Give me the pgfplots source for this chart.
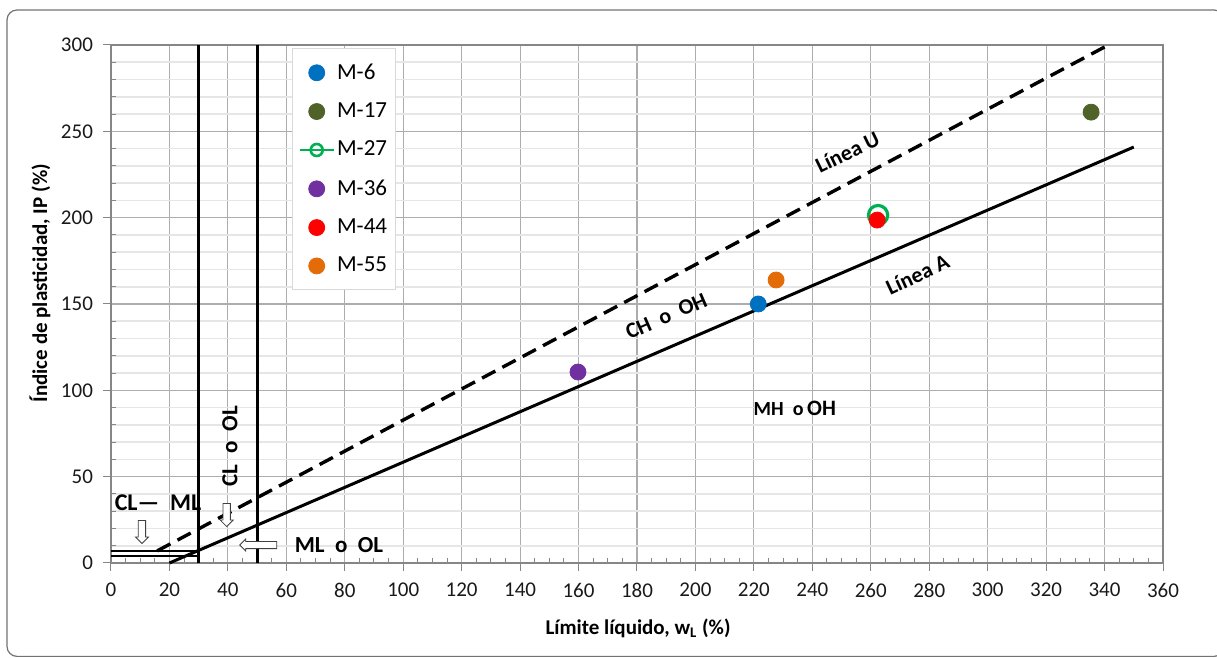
\documentclass[border=0pt]{standalone}
\usepackage{fontspec}
\setmainfont{Carlito}
\usepackage{pgfplots}
\pgfplotsset{compat=1.18}
\usetikzlibrary{shapes.arrows}
\definecolor{c6}{HTML}{0070C0}
\definecolor{c17}{HTML}{4F6228}
\definecolor{c27}{HTML}{00B050}
\definecolor{c36}{HTML}{7030A0}
\definecolor{c44}{HTML}{FF0000}
\definecolor{c55}{HTML}{E36C09}
\definecolor{gridmajor}{HTML}{ADADAD}
\definecolor{gridminor}{HTML}{E6E6E6}
\definecolor{axisgray}{HTML}{868686}
\definecolor{legendgray}{HTML}{D9D9D9}
\begin{document}
\begin{tikzpicture}
\clip (0,0) rectangle (608.5pt,329pt);
\draw[rounded corners=5pt, color=black!55, line width=0.6pt] (3.5pt,0.8pt) rectangle (612pt,324pt);
\begin{axis}[
  at={(55.5pt,47.5pt)}, anchor=south west,
  scale only axis, width=526pt, height=259pt,
  xmin=0, xmax=360, ymin=0, ymax=300,
  xtick distance=20, ytick distance=50,
  minor x tick num=3, minor y tick num=4,
  xmajorgrids=true, ymajorgrids=true, yminorgrids=true,
  major grid style={color=gridmajor, line width=0.55pt},
  minor grid style={color=gridminor, line width=0.8pt},
  axis line style={color=axisgray, line width=0.6pt},
  tick style={color=axisgray, line width=0.5pt},
  tick pos=left,
  tick align=outside, major tick length=4pt, minor tick length=-2.5pt,
  ticklabel style={font=\fontsize{10.5}{12}\selectfont, text=black!90},
  xticklabel style={yshift=-2.5pt},
  yticklabel style={xshift=-1.5pt},
  /pgf/number format/assume math mode=true,
  xlabel={\textbf{Límite líquido, w\textsubscript{L} (\%)}},
  xlabel style={at={(axis description cs:0.501,-0.1255)}, anchor=center, font=\fontsize{10.5}{12}\selectfont},
  ylabel={\textbf{Índice de plasticidad, IP (\%)}},
  ylabel style={at={(axis description cs:-0.0675,0.54)}, anchor=center, font=\fontsize{10.5}{12}\selectfont},
  legend style={at={(axis description cs:0.172,0.994)}, anchor=north west,
    draw=legendgray, fill=white, font=\fontsize{11.5}{13}\selectfont,
    row sep=6.3pt, inner xsep=3pt, inner ysep=5.5pt, nodes={inner xsep=1pt}},
  legend cell align=left,
  clip=false,
]
% lines
\addplot[forget plot, black, line width=1.5pt] coordinates {(20,0) (350,240.9)};
\addplot[forget plot, black, line width=1.7pt, dash pattern=on 7.5pt off 4pt] coordinates {(15.8,7) (341.3,300)};
\addplot[forget plot, black, line width=1.4pt] coordinates {(30,0) (30,300)};
\addplot[forget plot, black, line width=1.4pt] coordinates {(50,0) (50,300)};
\addplot[forget plot, black, line width=1.2pt] coordinates {(0,7) (29.5,7)};
\addplot[forget plot, black, line width=1.2pt] coordinates {(0,4) (29.5,4)};
% samples
\addplot[only marks, mark=*, mark size=4pt, color=c6] coordinates {(221.5,150)};
\addlegendentry{M-6}
\addplot[only marks, mark=*, mark size=4pt, color=c17] coordinates {(335.4,261.1)};
\addlegendentry{M-17}
\addplot[forget plot, color=c27, line width=1.5pt, mark=o, mark size=4.8pt, mark options={line width=1.6pt}] coordinates {(262.5,201.5)};
\addlegendimage{color=c27, line width=1.3pt, mark=o, mark size=3pt, mark options={line width=1.3pt}}
\addlegendentry{M-27}
\addplot[only marks, mark=*, mark size=4pt, color=c36] coordinates {(159.8,110.6)};
\addlegendentry{M-36}
\addplot[only marks, mark=*, mark size=4pt, color=c44] coordinates {(262.2,198.6)};
\addlegendentry{M-44}
\addplot[only marks, mark=*, mark size=4pt, color=c55] coordinates {(227.6,163.9)};
\addlegendentry{M-55}
% texts
\node[font=\bfseries\fontsize{11}{13}\selectfont, rotate=26] at (axis cs:252,238) {Línea U};
\node[font=\bfseries\fontsize{11}{13}\selectfont, rotate=25] at (axis cs:276,167) {Línea A};
\node[font=\bfseries\fontsize{11}{13}\selectfont, rotate=23.5] at (axis cs:190,143) {CH\ \ o\ \ OH};
\node[font=\bfseries\fontsize{11}{13}\selectfont] at (axis cs:234,89.8) {{\fontsize{10}{12}\selectfont MH\ \ o}\,OH};
\node[font=\bfseries\fontsize{11.5}{13}\selectfont, rotate=90] at (axis cs:40.7,67.7) {CL\ \ o\ \ OL};
\node[font=\bfseries\fontsize{12}{13}\selectfont] at (axis cs:16.1,34.7) {CL—\ \ ML};
\node[font=\bfseries\fontsize{11.5}{13}\selectfont] at (axis cs:78,10.4) {ML\ \ o\ \ OL};
\node[single arrow, draw=black!75, fill=white, line width=0.4pt, shape border rotate=270, minimum height=11.5pt, minimum width=6.5pt, inner sep=1.6pt, single arrow head extend=1.4pt] at (axis cs:10.6,19) {};
\node[single arrow, draw=black!75, fill=white, line width=0.4pt, shape border rotate=270, minimum height=11.5pt, minimum width=6.5pt, inner sep=1.6pt, single arrow head extend=1.4pt] at (axis cs:39.6,28.8) {};
\node[single arrow, draw=black!75, fill=white, line width=0.4pt, shape border rotate=180, minimum height=18.5pt, minimum width=6pt, inner sep=1.6pt, single arrow head extend=1.2pt] at (axis cs:51,10.4) {};
\end{axis}
\end{tikzpicture}
\end{document}
